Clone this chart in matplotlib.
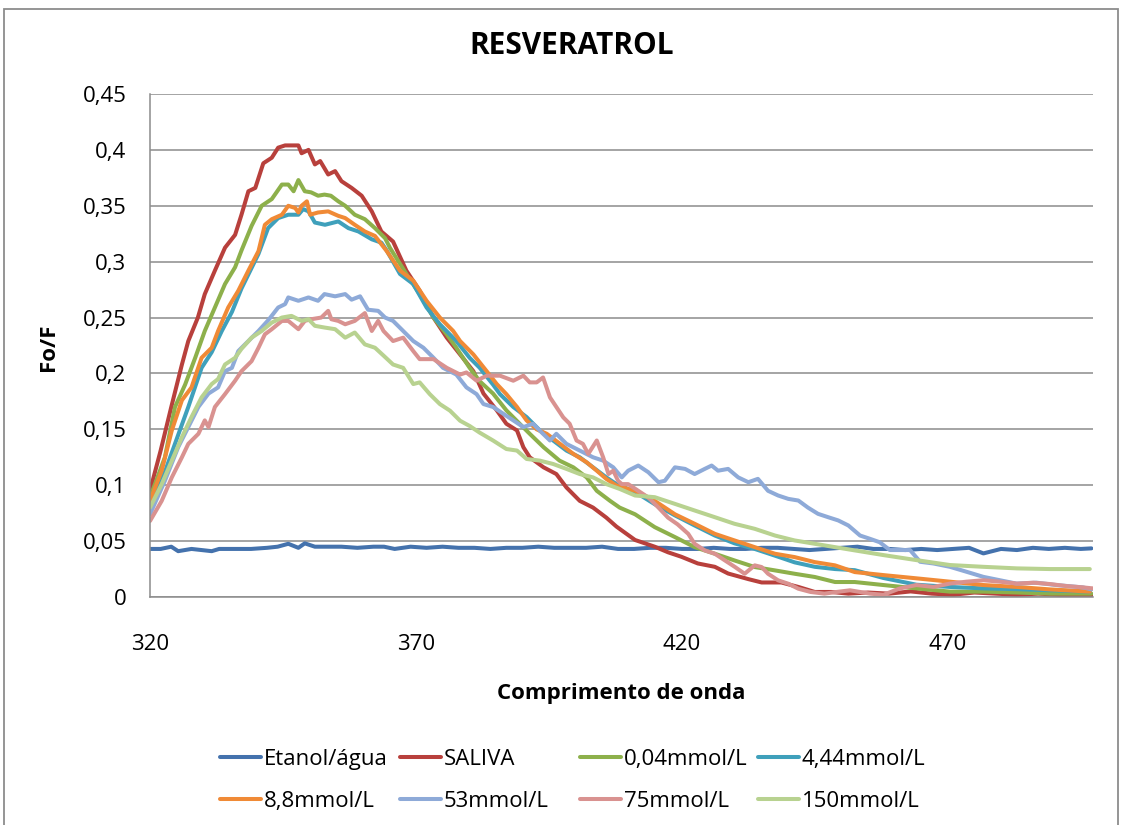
import matplotlib
matplotlib.use("Agg")
import matplotlib.pyplot as plt
from matplotlib.patches import Rectangle

plt.rcParams['font.family'] = ['Open Sans', 'DejaVu Sans']

# ---------------- data ----------------
series_names = ["Etanol/água", "SALIVA", "0,04mmol/L", "4,44mmol/L",
                "8,8mmol/L", "53mmol/L", "75mmol/L", "150mmol/L"]

etanol_x = [320, 322, 324, 325.3, 327.8, 331.6, 333, 336, 339, 342, 344, 346, 347.9, 349.1, 351, 353,
            356, 359, 362, 364, 366, 369, 372, 375, 378, 381, 384, 387, 390, 393, 396, 399, 402,
            405, 408, 411, 414, 417, 420, 423, 426, 429, 432, 435, 438, 441, 444, 447, 450, 453,
            456, 459, 462, 465, 468, 471, 474, 476.7, 480, 483, 486, 489, 492, 495, 497]
etanol_y = [0.043, 0.043, 0.045, 0.041, 0.043, 0.041, 0.043, 0.043, 0.043, 0.044, 0.045, 0.0476, 0.044, 0.048, 0.045, 0.045,
            0.045, 0.044, 0.045, 0.045, 0.043, 0.045, 0.044, 0.045, 0.044, 0.044, 0.043, 0.044, 0.044, 0.045, 0.044, 0.044, 0.044,
            0.045, 0.043, 0.043, 0.044, 0.044, 0.043, 0.043, 0.044, 0.043, 0.043, 0.044, 0.044, 0.043, 0.042, 0.043, 0.044, 0.045,
            0.043, 0.043, 0.042, 0.043, 0.042, 0.043, 0.044, 0.039, 0.043, 0.042, 0.044, 0.043, 0.044, 0.043, 0.0435]

saliva_x = [320, 322, 324, 326, 327.2, 329, 330.3, 332.2, 334.1, 336, 337.2, 338.5, 339.8, 341.3, 342.9,
            344.1, 345.4, 347.9, 348.5, 349.8, 351, 352, 353.5, 354.8, 356, 357.9, 359.8, 361.7, 363.5,
            365.7, 368.2, 370.7, 373.3, 375.8, 378.3, 380.8, 382.7, 385.2, 387, 389, 390.2, 391.4, 394,
            396.4, 398.3, 400.8, 403.3, 405.8, 407.7, 411.2, 414.9, 417.4, 419.9, 423, 426.2, 428.7,
            432.5, 435, 438.7, 441.9, 445, 448.1, 451.3, 455, 459, 463, 467, 471, 475, 479, 483, 487,
            491, 494, 497]
saliva_y = [0.095, 0.131, 0.170, 0.208, 0.229, 0.250, 0.271, 0.292, 0.3125, 0.324, 0.342, 0.363, 0.366, 0.388, 0.393,
            0.402, 0.404, 0.404, 0.397, 0.400, 0.387, 0.390, 0.378, 0.381, 0.372, 0.366, 0.359, 0.345, 0.327,
            0.318, 0.292, 0.274, 0.250, 0.232, 0.217, 0.202, 0.182, 0.167, 0.155, 0.149, 0.134, 0.125, 0.116,
            0.110, 0.098, 0.086, 0.080, 0.071, 0.063, 0.051, 0.045, 0.040, 0.036, 0.030, 0.027, 0.021,
            0.016, 0.013, 0.013, 0.009, 0.0045, 0.0045, 0.003, 0.004, 0.003, 0.005, 0.003, 0.002, 0.004, 0.003, 0.002,
            0.003, 0.002, 0.002, 0.002]

c004_x = [320, 322.8, 324.7, 326.6, 328.5, 330.3, 332.2, 334.1, 336, 337.2, 339.1, 341, 342.9, 344.8, 346,
          347, 347.9, 349.1, 350.3, 351.6, 352.8, 354, 355.4, 356.7, 358.5, 360.4, 362.3, 364.2, 365.1,
          368.2, 370.7, 373.3, 375.8, 377.6, 380.1, 382, 384.5, 387, 389.5, 391.4, 394, 397, 399.6,
          402.1, 404, 406.5, 408.3, 411.2, 414.9, 418.7, 422.4, 426.2, 429.9, 433.7, 437.5, 441.2, 445,
          448.8, 452.5, 457.9, 464.1, 470.4, 476.7, 483, 489.2, 497]
c004_y = [0.089, 0.125, 0.170, 0.190, 0.214, 0.238, 0.259, 0.280, 0.295, 0.310, 0.332, 0.350, 0.356, 0.369, 0.369,
          0.363, 0.373, 0.363, 0.362, 0.359, 0.360, 0.359, 0.354, 0.350, 0.342, 0.338, 0.330, 0.321, 0.3125,
          0.289, 0.271, 0.250, 0.235, 0.223, 0.205, 0.193, 0.182, 0.167, 0.155, 0.146, 0.134, 0.122, 0.116,
          0.107, 0.095, 0.086, 0.080, 0.074, 0.0625, 0.0536, 0.0446, 0.0387, 0.0327, 0.0268, 0.0238, 0.0208, 0.0179,
          0.0134, 0.0134, 0.0107, 0.0077, 0.0048, 0.0048, 0.004, 0.003, 0.003]

c444_x = [320.2, 322.8, 325.3, 327.2, 329.7, 331.6, 333.5, 335.4, 337.2, 340.4, 342.2, 344.1, 346, 347.9,
          348.8, 349.8, 351, 352.9, 355.4, 357.3, 359.2, 361.7, 363.5, 364.5, 367, 369.5, 372, 374.5,
          377.6, 380.1, 382, 384.5, 385.8, 388.3, 390.8, 393.3, 395.8, 398.3, 400.8, 403.3, 405.8,
          407.7, 411.2, 414.9, 418.7, 422.4, 426.2, 429.9, 433.7, 437.5, 441.2, 445, 448.8, 452.5,
          457.9, 464.1, 470.4, 476.7, 483, 489.2, 496.7]
c444_y = [0.083, 0.112, 0.145, 0.170, 0.205, 0.219, 0.238, 0.255, 0.276, 0.307, 0.330, 0.339, 0.342, 0.342,
          0.347, 0.345, 0.335, 0.333, 0.336, 0.330, 0.327, 0.320, 0.317, 0.310, 0.289, 0.280, 0.259, 0.244,
          0.229, 0.214, 0.205, 0.190, 0.1815, 0.170, 0.161, 0.149, 0.140, 0.131, 0.125, 0.116, 0.107,
          0.101, 0.094, 0.083, 0.073, 0.064, 0.055, 0.048, 0.043, 0.037, 0.031, 0.027, 0.025, 0.024,
          0.017, 0.011, 0.009, 0.0077, 0.007, 0.006, 0.0048]

c88_x = [320, 322.2, 324.1, 326, 327.8, 329.7, 331.6, 332.8, 334.7, 336.6, 338.5, 340.4, 341.6, 342.9,
         344.8, 346, 347.3, 347.9, 348.5, 349.5, 350.1, 351.6, 353.5, 355.4, 356.7, 358.5, 360.4, 362.3,
         364.5, 367, 369.5, 372, 374.5, 377, 378.3, 380.8, 383.3, 385.2, 387, 389, 390.8, 392.7, 394.6,
         397.1, 399.6, 402.1, 404, 405.8, 407.7, 411.2, 414.9, 418.7, 422.4, 426.2, 429.9, 433.7, 437.5,
         441.2, 445, 448.8, 452.5, 457.9, 464.1, 470.4, 476.7, 483, 489.2, 496.7]
c88_y = [0.086, 0.113, 0.149, 0.176, 0.1875, 0.214, 0.223, 0.238, 0.259, 0.274, 0.292, 0.3095, 0.333, 0.338,
         0.342, 0.350, 0.348, 0.344, 0.350, 0.354, 0.342, 0.344, 0.345, 0.341, 0.339, 0.333, 0.327, 0.323,
         0.3095, 0.292, 0.283, 0.265, 0.250, 0.238, 0.229, 0.217, 0.202, 0.1905, 0.1815, 0.170, 0.158, 0.150, 0.146,
         0.137, 0.128, 0.1205, 0.113, 0.1056, 0.0997, 0.095, 0.086, 0.074, 0.0655, 0.0565, 0.0506, 0.0446, 0.0387,
         0.0357, 0.0312, 0.0283, 0.0223, 0.0196, 0.0167, 0.0137, 0.0107, 0.009, 0.0068, 0.0048]

c53_x = [320, 322.8, 325.3, 327.2, 329.1, 331, 332.8, 334.1, 335.4, 336.6, 338.5, 340.4, 342.3, 344.1,
         345.4, 346, 347.9, 349.8, 351.6, 352.8, 354.8, 356.7, 357.9, 359.5, 361, 362.9, 364.2, 365.7,
         367.6, 369.5, 371.4, 373.3, 375.1, 377.6, 379.5, 381.4, 382.7, 384.5, 386.4, 388.3, 390.2, 392,
         393.9, 395.2, 396.4, 398.3, 400.8, 403.3, 405.2, 407.1, 408.7, 409.9, 411.8, 413.7, 415.6,
         416.8, 418.7, 420.6, 422.4, 424.3, 425.6, 426.8, 428.7, 430.6, 432.5, 434.3, 436.2, 438.1, 440,
         441.9, 443.7, 445.6, 447.5, 449.4, 451.3, 453.5, 455.4, 457.2, 459.1, 462.9, 464.8, 467.3, 470.4,
         473.5, 476.7, 479.8, 482.9, 486.7, 490.4, 495.4, 497]
c53_y = [0.074, 0.104, 0.134, 0.152, 0.170, 0.182, 0.1875, 0.202, 0.205, 0.220, 0.229, 0.238, 0.248, 0.259,
         0.262, 0.268, 0.265, 0.268, 0.265, 0.271, 0.269, 0.271, 0.266, 0.269, 0.257, 0.256, 0.250, 0.247,
         0.238, 0.229, 0.223, 0.214, 0.205, 0.199, 0.1875, 0.1815, 0.1726, 0.170, 0.164, 0.158, 0.152, 0.155,
         0.146, 0.140, 0.146, 0.137, 0.131, 0.125, 0.122, 0.116, 0.107, 0.113, 0.1176, 0.1116, 0.1027,
         0.104, 0.116, 0.1146, 0.110, 0.1146, 0.1176, 0.113, 0.1146, 0.107, 0.1027, 0.1057, 0.095, 0.0908, 0.0878,
         0.0863, 0.080, 0.0744, 0.0714, 0.0685, 0.064, 0.055, 0.052, 0.049, 0.042, 0.042, 0.0315, 0.030, 0.027,
         0.0226, 0.018, 0.015, 0.012, 0.0128, 0.0107, 0.0086, 0.0068]

c75_x = [320, 322.2, 324.1, 326, 327.2, 329.1, 330.3, 331, 332.2, 334.1, 336, 337.2, 339.1, 340.4, 341.6,
         342.9, 344.8, 346, 347.9, 349.1, 350.3, 352.2, 353.5, 354.1, 355.4, 356.7, 358.5, 360.4, 361.7,
         362.9, 363.9, 365.7, 367.6, 369.5, 370.7, 373.3, 375.8, 378.3, 379.5, 381.4, 383.3, 385.8, 388.3,
         390.2, 391.4, 392.7, 393.9, 395.2, 397.7, 398.9, 400.2, 401.4, 402.4, 404, 405.2, 406.2, 407.1,
         408, 408.7, 409.9, 411.8, 413.7, 415.6, 417.4, 419.2, 421.2, 422.4, 424.3, 426.2, 428.1, 430,
         431.8, 433.7, 435, 436.2, 438.1, 440, 441.9, 444.2, 446.8, 449.1, 451.6, 455.4, 457.9, 461,
         464.1, 467.3, 470.4, 473.5, 476.7, 479.8, 483, 486.1, 489.2, 492.3, 495.4, 497.3]
c75_y = [0.068, 0.086, 0.107, 0.125, 0.137, 0.146, 0.158, 0.152, 0.170, 0.1815, 0.1935, 0.202, 0.211, 0.223, 0.235,
         0.2396, 0.247, 0.247, 0.2396, 0.247, 0.2485, 0.250, 0.256, 0.2485, 0.247, 0.244, 0.247, 0.254, 0.238,
         0.247, 0.238, 0.229, 0.232, 0.220, 0.2128, 0.2128, 0.205, 0.199, 0.2009, 0.1935, 0.198, 0.198, 0.1935,
         0.198, 0.192, 0.192, 0.1964, 0.1786, 0.1607, 0.155, 0.140, 0.137, 0.128, 0.140, 0.125, 0.110, 0.113,
         0.104, 0.101, 0.101, 0.095, 0.089, 0.080, 0.071, 0.065, 0.0565, 0.0476, 0.0417, 0.0387, 0.0327, 0.0268,
         0.0208, 0.0283, 0.0268, 0.0208, 0.0149, 0.0119, 0.0074, 0.0045, 0.003, 0.0045, 0.006, 0.003, 0.002, 0.0077,
         0.0107, 0.009, 0.012, 0.0137, 0.015, 0.0137, 0.012, 0.0128, 0.0116, 0.0098, 0.0086, 0.0077]

c150_x = [320, 322.2, 324.1, 326, 327.8, 329.7, 331.6, 332.8, 334.1, 336, 337.2, 339.1, 341, 342.9, 344.8,
          346.6, 348.5, 349.8, 351, 352.9, 354.8, 356.7, 358.5, 360.4, 362.3, 363.9, 365.7, 367.6, 369.5,
          370.7, 372.6, 374.5, 376.4, 378.3, 380.1, 382, 384.5, 387, 389, 390.8, 393.3, 395.8, 398.3,
          400.8, 403.3, 405.8, 408.3, 411.2, 414.9, 418.7, 422.4, 426.2, 429.9, 433.7, 437.5, 441.2, 445,
          448.8, 452.5, 457.9, 464.1, 470.4, 476.7, 483, 489.2, 496.7]
c150_y = [0.080, 0.101, 0.122, 0.143, 0.161, 0.1786, 0.1905, 0.195, 0.208, 0.214, 0.222, 0.232, 0.238, 0.2455, 0.250,
          0.2515, 0.247, 0.2485, 0.2426, 0.241, 0.2396, 0.232, 0.2366, 0.226, 0.223, 0.216, 0.208, 0.205, 0.1905,
          0.192, 0.1815, 0.1726, 0.1667, 0.1577, 0.153, 0.147, 0.140, 0.1324, 0.131, 0.1235, 0.122, 0.119, 0.1146,
          0.110, 0.107, 0.101, 0.0967, 0.0908, 0.0893, 0.0833, 0.0774, 0.0714, 0.0655, 0.061, 0.055, 0.0506, 0.0476,
          0.0446, 0.0417, 0.0375, 0.033, 0.0286, 0.027, 0.0256, 0.025, 0.025]

series_x = [etanol_x, saliva_x, c004_x, c444_x, c88_x, c53_x, c75_x, c150_x]
series_y = [etanol_y, saliva_y, c004_y, c444_y, c88_y, c53_y, c75_y, c150_y]

x_ticks = [320, 370, 420, 470]
y_ticks = [0, 0.05, 0.1, 0.15, 0.2, 0.25, 0.3, 0.35, 0.4, 0.45]
y_tick_labels = ["0", "0,05", "0,1", "0,15", "0,2", "0,25", "0,3", "0,35", "0,4", "0,45"]

title = "RESVERATROL"
x_label = "Comprimento de onda"
y_label = "Fo/F"

# ---------------- styles ----------------
colors = ["#4472AD", "#B8403C", "#8DB04B", "#3FA0BB",
          "#F08A36", "#8EAAD8", "#D99290", "#B8D290"]
W, H = 1125, 825

fig = plt.figure(figsize=(W / 100, H / 100), dpi=100)
fig.patch.set_facecolor("white")
ax = fig.add_axes([150 / W, 1 - 597 / H, (1093 - 150) / W, (597 - 94) / H])

lines = []
for xs, ys, c, name in zip(series_x, series_y, colors, series_names):
    ln, = ax.plot(xs, ys, color=c, lw=2.9, label=name, solid_joinstyle="round",
                  solid_capstyle="round")
    lines.append(ln)

ax.set_xlim(320, 497.3)
ax.set_ylim(0, 0.45)
ax.set_xticks(x_ticks)
ax.set_xticklabels([str(t) for t in x_ticks])
ax.set_yticks(y_ticks)
ax.set_yticklabels(y_tick_labels)
ax.tick_params(axis="both", length=0, labelsize=16, colors="#000000")
ax.tick_params(axis="y", pad=17)
ax.tick_params(axis="x", pad=27)
ax.grid(axis="y", color="#8c8c8c", lw=1.1)
ax.set_axisbelow(True)
for s in ["top", "right"]:
    ax.spines[s].set_visible(False)
for s in ["left", "bottom"]:
    ax.spines[s].set_color("#8c8c8c")
    ax.spines[s].set_linewidth(1.1)

fig.text(572 / W, 1 - 46 / H, title, ha="center", va="center", fontsize=21.5, fontweight="bold")
fig.text(621.5 / W, 1 - 694 / H, x_label, ha="center", va="center", fontsize=16, fontweight="bold")
fig.text(48 / W, 1 - 347 / H, y_label, ha="center", va="center", fontsize=16, fontweight="bold",
         rotation=90)

# outer chart frame
fig.patches.append(Rectangle((4 / W, -0.05), (1118 - 4) / W, 1 - 9 / H + 0.05,
                             transform=fig.transFigure, fill=False, edgecolor="#8c8c8c", lw=1.3))

# legend: four columns, two rows (Excel row-major order)
col_x = [220, 400, 580, 758]
for i, cx in enumerate(col_x):
    hs = [lines[i], lines[i + 4]]
    fig.legend(hs, [series_names[i], series_names[i + 4]], loc="upper left",
               bbox_to_anchor=(cx / W, 1 - 749 / H), frameon=False, fontsize=16,
               handlelength=1.85, handletextpad=0.12, borderpad=0, borderaxespad=0,
               labelspacing=0.95)

fig.savefig("out.png", dpi=100, facecolor="white")
